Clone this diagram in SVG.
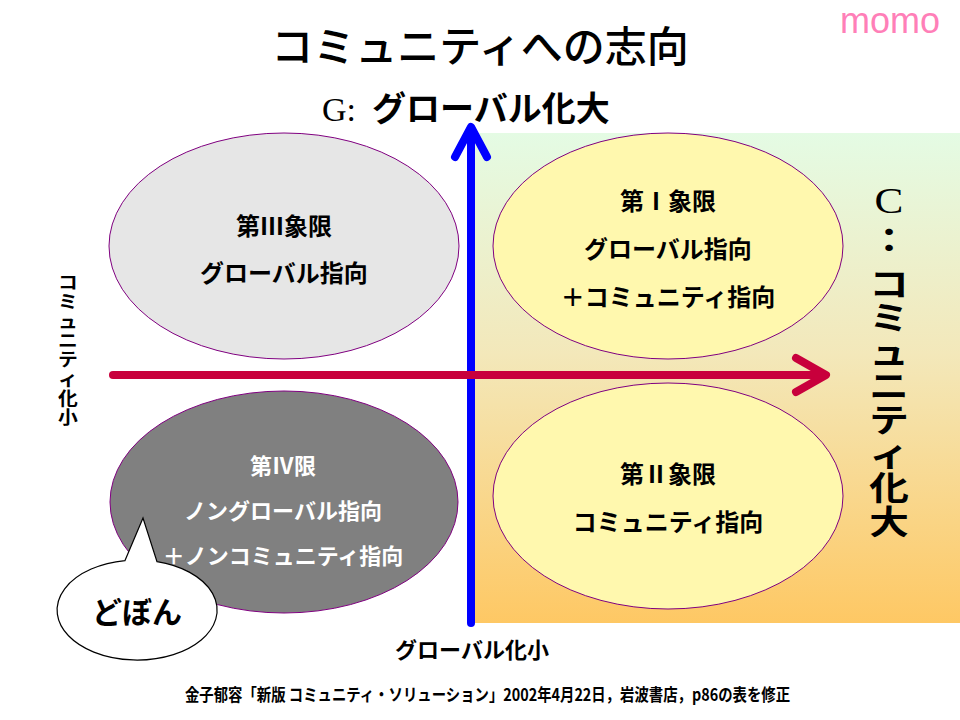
<svg xmlns="http://www.w3.org/2000/svg" width="960" height="720" viewBox="0 0 960 720">
<defs>
<linearGradient id="bg" x1="0" y1="0" x2="0" y2="1">
<stop offset="0" stop-color="#e4fbe4"/>
<stop offset="0.45" stop-color="#f3e8ba"/>
<stop offset="1" stop-color="#fec864"/>
</linearGradient>
<style>
.jp{font-family:"Noto Sans CJK JP","Noto Sans",sans-serif;font-weight:bold;fill:#000}
.q{stroke:#800080;stroke-width:1}
.lbl{font-size:24px;text-anchor:middle}
.wt{fill:#fff}
.ax{fill:none;stroke-width:8;stroke-linecap:round;stroke-linejoin:round}
</style>
</defs>
<rect width="960" height="720" fill="#fff"/>
<rect x="474" y="133" width="486" height="490" fill="url(#bg)"/>
<text x="480" y="62" font-family="'Noto Sans CJK JP',sans-serif" font-size="42" font-weight="500" text-anchor="middle">コミュニティへの志向</text>
<text x="840" y="33" font-family="'Liberation Sans',Arial,sans-serif" font-size="36" fill="#ff7fb8">momo</text>
<text x="322" y="121" class="jp" font-size="34"><tspan font-family="'Liberation Serif',serif" font-weight="normal">G:</tspan><tspan x="372">グローバル化大</tspan></text>
<g id="axes">
<line x1="471" y1="623" x2="471" y2="130" class="ax" stroke="#0000ff"/>
<polyline points="455,157 471,127 487,157" class="ax" stroke="#0000ff"/>
<line x1="113" y1="375" x2="822" y2="375" class="ax" stroke="#c8003c" stroke-linecap="butt"/>
<polyline points="796,358 826,375 796,392" class="ax" stroke="#c8003c"/>
</g>
<g id="q3">
<ellipse cx="284" cy="246" rx="175" ry="113" fill="#e6e6e6" class="q"/>
<text class="jp lbl" x="284" y="235">第Ⅲ象限</text>
<text class="jp lbl" x="284" y="282">グローバル指向</text>
</g>
<g id="q1">
<ellipse cx="668" cy="246" rx="175" ry="113" fill="#fff8ae" class="q"/>
<text class="jp lbl" x="668" y="210">第Ⅰ象限</text>
<text class="jp lbl" x="668" y="258">グローバル指向</text>
<text class="jp lbl" x="668" y="306">＋コミュニティ指向</text>
</g>
<g id="q2">
<ellipse cx="668" cy="496" rx="175" ry="113" fill="#fff8ae" class="q"/>
<text class="jp lbl" x="668" y="483">第Ⅱ象限</text>
<text class="jp lbl" x="668" y="531">コミュニティ指向</text>
</g>
<g id="q4">
<ellipse cx="284" cy="502" rx="174" ry="111" fill="#808080" class="q"/>
<text class="jp wt" x="283" y="474" font-size="22" text-anchor="middle">第Ⅳ限</text>
<text class="jp wt" x="283" y="519" font-size="22" text-anchor="middle">ノングローバル指向</text>
<text class="jp wt" x="283" y="564" font-size="22" text-anchor="middle">＋ノンコミュニティ指向</text>
</g>
<g id="dobon">
<path d="M125,560.6 L143,518 L157,561.6 A80,50 0 1,1 125,560.6 Z" fill="#fff" stroke="#000" stroke-width="1.2"/>
<text class="jp" x="137" y="623" font-size="30" text-anchor="middle">どぼん</text>
</g>
<g id="labels">
<text class="jp" font-size="18" text-anchor="middle" transform="translate(68 0) scale(1.1 1)"><tspan x="0" y="289">コ</tspan><tspan x="0" y="308">ミ</tspan><tspan x="0" y="328">ュ</tspan><tspan x="0" y="347">ニ</tspan><tspan x="0" y="366">テ</tspan><tspan x="0" y="386">ィ</tspan><tspan x="0" y="405">化</tspan><tspan x="0" y="424">小</tspan></text>
<text class="jp" font-size="33" text-anchor="middle" transform="translate(889 0) scale(1.2 1)"><tspan x="0" y="213" font-family="'Liberation Serif',serif" font-weight="normal" font-size="36">C</tspan><tspan x="0" y="252">：</tspan><tspan x="0" y="296">コ</tspan><tspan x="0" y="330">ミ</tspan><tspan x="0" y="364">ュ</tspan><tspan x="0" y="398">ニ</tspan><tspan x="0" y="432">テ</tspan><tspan x="0" y="466">ィ</tspan><tspan x="0" y="500">化</tspan><tspan x="0" y="534">大</tspan></text>
<text class="jp" x="472" y="658" font-size="22" text-anchor="middle">グローバル化小</text>
<text class="jp" x="185" y="701" font-size="17" textLength="605" lengthAdjust="spacingAndGlyphs">金子郁容「新版 コミュニティ・ソリューション」2002年4月22日，岩波書店，p86の表を修正</text>
</g>
</svg>
